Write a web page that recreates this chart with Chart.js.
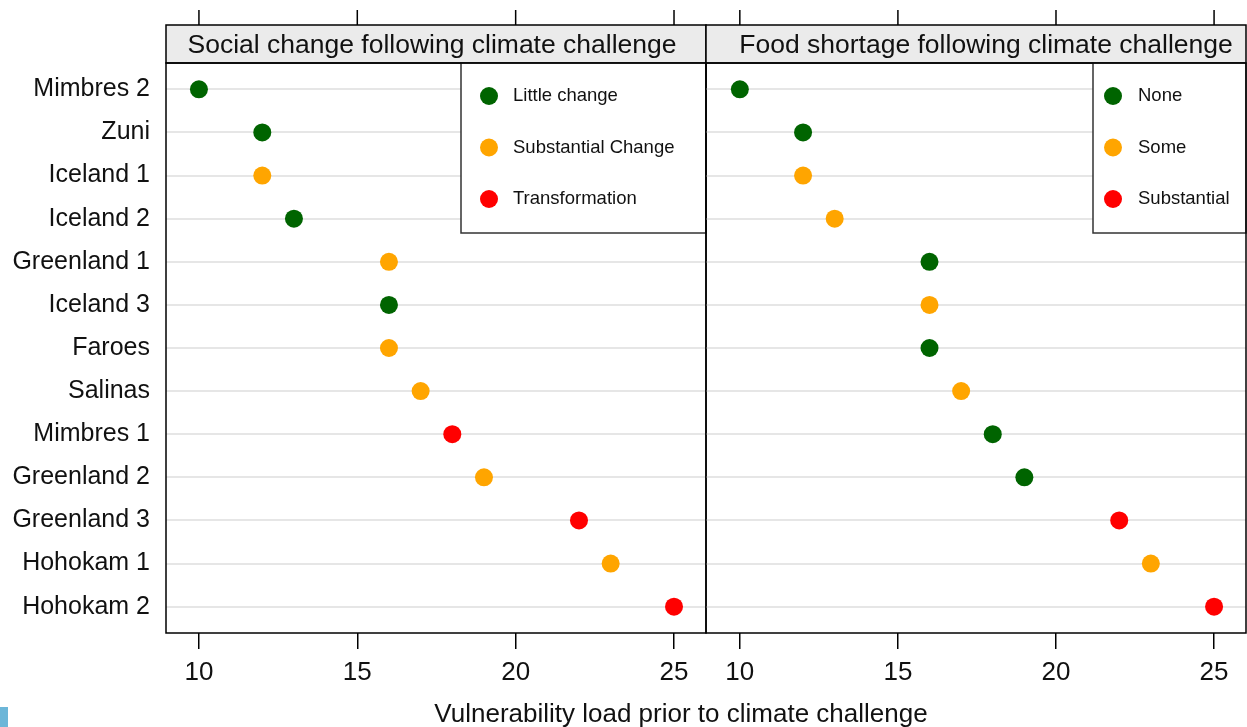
<!DOCTYPE html>
<html>
<head>
<meta charset="utf-8">
<script src="https://cdn.jsdelivr.net/npm/chart.js@4.4.1/dist/chart.umd.min.js"></script>
<style>
  html, body { margin: 0; padding: 0; background: #fff; }
  #wrap { position: relative; width: 1247px; height: 727px; overflow: hidden; }
  #left { position: absolute; left: 0; top: 0; }
  #right { position: absolute; left: 700px; top: 0; }
  #xtitle { position: absolute; left: 0; width: 1362px; top: 698px; line-height: 30px; text-align: center;
            font: 26px "Liberation Sans", Arial, sans-serif; color: #111; white-space: nowrap; }
  #mark { position: absolute; left: 0; top: 707px; width: 8px; height: 20px; background: #6cb6d8; }
</style>
</head>
<body>
<div id="wrap">
  <canvas id="left" width="708" height="727"></canvas>
  <canvas id="right" width="547" height="727"></canvas>
  <div id="xtitle"></div>
  <div id="mark"></div>
</div>
<script>
// data
const categories = ['Mimbres 2', 'Zuni', 'Iceland 1', 'Iceland 2', 'Greenland 1', 'Iceland 3', 'Faroes',
                    'Salinas', 'Mimbres 1', 'Greenland 2', 'Greenland 3', 'Hohokam 1', 'Hohokam 2'];
const vulnerability = [10, 12, 12, 13, 16, 16, 16, 17, 18, 19, 22, 23, 25];
// level index per site (0 = low, 1 = middle, 2 = high)
const socialChange = [0, 0, 1, 0, 1, 0, 1, 1, 2, 1, 2, 1, 2];
const foodShortage = [0, 0, 1, 1, 0, 1, 0, 1, 0, 0, 2, 1, 2];
const socialLevels = ['Little change', 'Substantial Change', 'Transformation'];
const foodLevels = ['None', 'Some', 'Substantial'];
const levelColors = ['#006400', '#FFA500', '#FF0000'];
const xTicks = [10, 15, 20, 25];
const panelTitles = ['Social change following climate challenge', 'Food shortage following climate challenge'];
const axisTitle = 'Vulnerability load prior to climate challenge';

const FONT = '"Liberation Sans", Arial, sans-serif';
document.getElementById('xtitle').textContent = axisTitle;

// strip title, top ticks, panel frame and the boxed legend
const panelPlugin = {
  id: 'panel',
  afterDraw(chart, args, o) {
    const ctx = chart.ctx, a = chart.chartArea, xs = chart.scales.x;
    ctx.save();
    // top ticks above the strip
    ctx.strokeStyle = '#000';
    ctx.lineWidth = 1.5;
    xTicks.forEach(v => {
      const px = xs.getPixelForValue(v);
      ctx.beginPath();
      ctx.moveTo(px, 10);
      ctx.lineTo(px, 25);
      ctx.stroke();
    });
    // strip
    ctx.fillStyle = '#ebebeb';
    ctx.fillRect(a.left, 25, a.right - a.left, a.top - 25);
    ctx.strokeRect(a.left, 25, a.right - a.left, a.top - 25);
    ctx.fillStyle = '#111';
    ctx.font = '26.5px ' + FONT;
    ctx.textAlign = 'center';
    ctx.textBaseline = 'middle';
    ctx.fillText(o.title, (a.left + a.right) / 2 + o.titleShift, 46);
    // legend box
    const bx = a.right - o.boxWidth, by = a.top;
    ctx.fillStyle = '#fff';
    ctx.fillRect(bx, by, o.boxWidth, 170);
    ctx.strokeStyle = '#333';
    ctx.strokeRect(bx, by, o.boxWidth, 170);
    ctx.font = '18.5px ' + FONT;
    ctx.textAlign = 'left';
    o.labels.forEach((lab, i) => {
      const cy = by + 33 + i * 51.5;
      ctx.fillStyle = levelColors[i];
      ctx.beginPath();
      ctx.arc(bx + o.dotX, cy, 9, 0, Math.PI * 2);
      ctx.fill();
      ctx.fillStyle = '#111';
      ctx.fillText(lab, bx + o.textX, cy);
    });
    // panel frame
    ctx.strokeStyle = '#000';
    ctx.lineWidth = 1.5;
    ctx.strokeRect(a.left, a.top, a.right - a.left, a.bottom - a.top);
    ctx.restore();
  }
};

function makePanel(id, levels, codes, title, showY, xMin, pad, legend) {
  const datasets = levels.map((lab, l) => ({
    label: lab,
    data: categories.map((c, i) => ({ x: vulnerability[i], y: i })).filter((p, i) => codes[i] === l),
    backgroundColor: levelColors[l],
    borderWidth: 0,
    pointRadius: 9,
    pointHoverRadius: 9
  }));
  return new Chart(document.getElementById(id), {
    type: 'scatter',
    data: { datasets: datasets },
    options: {
      responsive: false,
      animation: false,
      layout: { padding: pad, autoPadding: false },
      plugins: {
        legend: { display: false },
        tooltip: { enabled: false },
        panel: Object.assign({ title: title, labels: levels }, legend)
      },
      scales: {
        x: {
          type: 'linear',
          min: xMin,
          max: 26.01,
          afterBuildTicks: s => { s.ticks = xTicks.map(v => ({ value: v })); },
          afterFit: s => { s.height = 94; s.paddingLeft = 0; s.paddingRight = 0; },
          border: { display: false },
          grid: { drawOnChartArea: false, drawTicks: true, tickLength: 16, color: '#000', lineWidth: 1.5 },
          ticks: { font: { family: FONT, size: 26 }, color: '#111', padding: 8, maxRotation: 0 }
        },
        y: {
          type: 'linear',
          reverse: true,
          min: -0.61,
          max: 12.61,
          afterBuildTicks: s => { s.ticks = categories.map((c, i) => ({ value: i })); },
          afterFit: s => { s.width = showY ? 166 : 0; s.paddingTop = 0; s.paddingBottom = 0; },
          border: { display: false },
          grid: { drawTicks: false, color: '#e6e6e6', lineWidth: 2 },
          ticks: {
            display: showY,
            padding: 16,
            autoSkip: false,
            font: { family: FONT, size: 25 },
            color: '#111',
            callback: v => categories[v]
          }
        }
      }
    },
    plugins: [panelPlugin]
  });
}

makePanel('left', socialLevels, socialChange, panelTitles[0], true, 8.96,
  { top: 63, right: 2, left: 0, bottom: 0 }, { boxWidth: 245, dotX: 28, textX: 52, titleShift: -4 });
makePanel('right', foodLevels, foodShortage, panelTitles[1], false, 8.93,
  { top: 63, right: 1, left: 6, bottom: 0 }, { boxWidth: 153, dotX: 20, textX: 45, titleShift: 10 });
</script>
</body>
</html>
